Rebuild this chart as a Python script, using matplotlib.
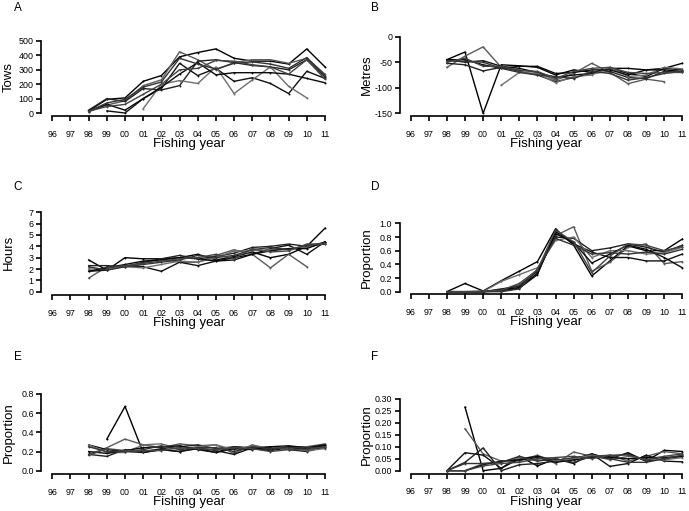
import matplotlib

matplotlib.use("Agg")

import matplotlib.pyplot as plt  # noqa: E402
import numpy as np  # noqa: E402

plt.rcParams["font.family"] = ["Liberation Sans", "DejaVu Sans"]

W, H = 689, 511
years = np.arange(1998, 2012)
tick_years = np.arange(1996, 2012)
tick_labels = [f"{y % 100:02d}" for y in tick_years]
N = None

tows = [
    [15, 95, 105, 220, 260, 390, 420, 445, 380, 360, 360, 340, 445, 320],
    [10, 55, 85, 190, 230, 425, 370, 300, 350, 370, 370, 345, 380, 270],
    [N, 15, 0, 100, 170, 345, 260, 310, 220, 245, 205, 135, 290, 240],
    [20, 100, 80, 170, 160, 190, 360, 370, 350, 330, 320, 300, 370, 250],
    [N, N, N, 30, 200, 225, 205, 320, 135, 230, 320, 185, 105, N],
    [15, 60, 20, 100, 180, 270, 350, 265, 280, 280, 280, 270, 240, 210],
    [10, 70, 95, 180, 215, 380, 340, 305, 345, 355, 340, 310, 385, 260],
    [12, 45, 60, 130, 200, 300, 310, 365, 360, 335, 320, 270, 370, 235],
]
metres = [
    [-45, -30, -150, -55, -57, -60, -75, -65, -70, -62, -62, -65, -62, -52],
    [-60, -38, -20, -60, -65, -70, -85, -72, -52, -70, -92, -83, -88, N],
    [-45, -50, -47, -58, -62, -70, -80, -75, -72, -62, -72, -78, -62, -65],
    [-52, -55, -67, -60, -68, -75, -88, -80, -72, -68, -80, -82, -68, -70],
    [N, N, N, -95, -70, -72, -90, -78, -75, -60, -78, -75, -60, -63],
    [-45, -45, -55, -62, -58, -58, -72, -70, -65, -65, -75, -65, -65, -68],
    [-47, -48, -50, -62, -70, -75, -78, -82, -68, -72, -85, -80, -72, -68],
    [-50, -42, -58, -58, -66, -68, -82, -68, -62, -60, -70, -72, -70, -70],
]
hours = [
    [2.8, 1.9, 3.0, 2.9, 2.9, 3.0, 3.3, 2.8, 3.1, 3.5, 3.0, 3.3, 4.0, 5.6],
    [1.2, 2.2, 2.2, 2.5, 2.9, 2.6, 2.6, 3.2, 3.7, 3.3, 2.1, 3.3, 2.2, N],
    [1.8, 1.9, 2.3, 2.2, 1.8, 2.6, 2.3, 2.7, 2.8, 3.3, 3.8, 4.1, 3.3, 4.4],
    [2.3, 2.3, 2.2, 2.6, 2.9, 3.2, 2.9, 3.1, 3.4, 3.9, 4.0, 4.2, 4.0, 4.2],
    [2.0, 2.0, 2.2, 2.1, 2.4, 2.7, 2.6, 3.0, 3.6, 3.6, 3.7, 3.8, 3.9, 4.3],
    [1.8, 2.1, 2.4, 2.7, 2.8, 3.0, 2.9, 2.7, 3.0, 3.3, 3.6, 3.8, 3.8, 4.4],
    [2.2, 1.9, 2.2, 2.4, 2.6, 2.8, 3.2, 3.0, 3.2, 3.7, 3.9, 3.7, 4.1, 4.3],
    [N, 2.1, 2.3, 2.5, 2.7, 2.9, 3.0, 3.3, 2.9, 3.8, 3.5, 3.6, 4.2, 4.2],
]
prop_d = [
    [0, 0.12, 0.01, 0.16, 0.30, 0.44, 0.92, 0.68, 0.23, 0.45, 0.67, 0.60, 0.60, 0.77],
    [0, 0, 0, 0.02, 0.10, 0.30, 0.82, 0.95, 0.30, 0.43, 0.65, 0.70, 0.41, 0.44],
    [0, 0, 0, 0.01, 0.05, 0.25, 0.88, 0.70, 0.58, 0.50, 0.50, 0.45, 0.45, 0.55],
    [0, 0, 0, 0.04, 0.08, 0.30, 0.80, 0.78, 0.60, 0.64, 0.70, 0.65, 0.58, 0.68],
    [0, 0, 0, 0.15, 0.25, 0.35, 0.75, 0.80, 0.50, 0.60, 0.60, 0.55, 0.57, 0.65],
    [0, 0, 0, 0.03, 0.06, 0.27, 0.85, 0.72, 0.42, 0.55, 0.68, 0.62, 0.50, 0.35],
    [0, 0, 0, 0.00, 0.04, 0.33, 0.78, 0.68, 0.55, 0.57, 0.55, 0.58, 0.55, 0.62],
    [0, 0, 0.01, 0.02, 0.12, 0.32, 0.90, 0.73, 0.28, 0.52, 0.70, 0.68, 0.60, 0.66],
]
prop_e = [
    [N, 0.33, 0.67, 0.19, 0.22, 0.20, 0.23, 0.19, 0.25, 0.23, 0.21, 0.24, 0.22, 0.27],
    [0.17, 0.24, 0.33, 0.27, 0.24, 0.28, 0.26, 0.27, 0.18, 0.27, 0.22, 0.25, 0.25, 0.28],
    [0.27, 0.22, 0.20, 0.19, 0.22, 0.20, 0.24, 0.21, 0.17, 0.24, 0.25, 0.22, 0.20, 0.25],
    [0.17, 0.15, 0.22, 0.20, 0.23, 0.25, 0.27, 0.23, 0.25, 0.24, 0.22, 0.25, 0.23, 0.26],
    [0.27, 0.19, 0.19, 0.27, 0.28, 0.23, 0.25, 0.27, 0.22, 0.26, 0.24, 0.23, 0.21, 0.23],
    [0.20, 0.18, 0.21, 0.24, 0.25, 0.26, 0.22, 0.19, 0.23, 0.22, 0.25, 0.26, 0.24, 0.27],
    [0.25, 0.20, 0.20, 0.22, 0.26, 0.22, 0.24, 0.24, 0.20, 0.25, 0.23, 0.24, 0.24, 0.24],
    [0.16, 0.23, 0.21, 0.21, 0.21, 0.24, 0.23, 0.22, 0.24, 0.23, 0.20, 0.22, 0.22, 0.25],
]
prop_f = [
    [N, 0.265, 0.0, 0.01, 0.06, 0.02, 0.05, 0.03, 0.07, 0.05, 0.075, 0.04, 0.085, 0.08],
    [N, 0.175, 0.07, 0.04, 0.04, 0.065, 0.03, 0.078, 0.06, 0.065, 0.04, 0.06, 0.08, 0.07],
    [0, 0.075, 0.065, 0.01, 0.05, 0.06, 0.045, 0.05, 0.07, 0.018, 0.03, 0.065, 0.04, 0.037],
    [0, 0.035, 0.095, 0.0, 0.025, 0.03, 0.04, 0.055, 0.06, 0.06, 0.07, 0.04, 0.05, 0.06],
    [0, 0.0, 0.03, 0.035, 0.055, 0.045, 0.04, 0.05, 0.065, 0.045, 0.06, 0.05, 0.045, 0.055],
    [0, 0.0, 0.025, 0.04, 0.045, 0.055, 0.035, 0.045, 0.055, 0.055, 0.05, 0.055, 0.055, 0.06],
    [0, 0.03, 0.03, 0.035, 0.06, 0.04, 0.05, 0.035, 0.06, 0.05, 0.035, 0.035, 0.05, 0.065],
    [0, 0.0, 0.02, 0.03, 0.035, 0.05, 0.055, 0.06, 0.05, 0.065, 0.065, 0.045, 0.06, 0.07],
]

grays = ["#000000", "#5a5a5a", "#111111", "#222222", "#6e6e6e", "#0a0a0a", "#333333", "#444444"]

# (letter, ylabel, data, yticks, fmt, plot-region box in pixels: left, top, right, bottom,
#  letter position in pixels)
panels = [
    ("A", "Tows", tows, np.arange(0, 501, 100), "{:.0f}",
     (41.4, 38.1, 335.9, 115.9), (18, 8)),
    ("B", "Metres", metres, np.arange(-150, 1, 50), "{:.0f}",
     (399.8, 33.6, 693.2, 116.4), (375, 8)),
    ("C", "Hours", hours, np.arange(0, 8, 1), "{:.0f}",
     (41.4, 209.1, 335.9, 294.9), (18, 187)),
    ("D", "Proportion", prop_d, np.round(np.arange(0, 1.01, 0.2), 2), "{:.1f}",
     (399.8, 220.6, 693.2, 294.4), (375, 187)),
    ("E", "Proportion", prop_e, np.round(np.arange(0, 0.81, 0.2), 2), "{:.1f}",
     (41.4, 390.9, 335.9, 473.8), (18, 357)),
    ("F", "Proportion", prop_f, np.round(np.arange(0, 0.301, 0.05), 2), "{:.2f}",
     (399.8, 395.8, 693.2, 473.6), (375, 357)),
]

fig = plt.figure(figsize=(W / 100, H / 100), dpi=100)

for letter, ylabel, data, yticks, fmt, (l, t, r, b), (lx, ly) in panels:
    ax = fig.add_axes([l / W, 1 - b / H, (r - l) / W, (b - t) / H])
    ax.patch.set_alpha(0)
    for i, series in enumerate(data):
        vals = np.array([np.nan if v is None else v for v in series], dtype=float)
        ax.plot(years, vals, color=grays[i % len(grays)], lw=1.0,
                marker="o", ms=1.4, mew=0)
    pad_y = 0.04 * (yticks[-1] - yticks[0])
    ax.set_xlim(1996 - 0.6, 2011 + 0.6)
    ax.set_ylim(yticks[0] - pad_y, yticks[-1] + pad_y)
    for side in ("top", "right"):
        ax.spines[side].set_visible(False)
    ax.spines["bottom"].set_bounds(1996, 2011)
    ax.spines["left"].set_bounds(yticks[0], yticks[-1])
    ax.spines["bottom"].set_linewidth(1.2)
    ax.spines["left"].set_linewidth(1.2)
    ax.set_xticks(tick_years)
    ax.set_xticklabels(tick_labels)
    ax.set_yticks(yticks)
    ax.set_yticklabels([fmt.format(v) for v in yticks])
    ax.tick_params(axis="both", length=3.5, width=1.2, labelsize=6.4, pad=2)
    ax.tick_params(axis="x", pad=6.5)

    cy = (t + b) / 2
    fig.text((l - 33) / W, 1 - cy / H, ylabel, fontsize=9.5, rotation=90,
             ha="center", va="center")
    fig.text(((l + r) / 2) / W, 1 - (b + 28) / H, "Fishing year", fontsize=9.5,
             ha="center", va="center")
    fig.text(lx / W, 1 - ly / H, letter, fontsize=8.5, ha="center", va="center")

fig.savefig("out.png", dpi=100)
